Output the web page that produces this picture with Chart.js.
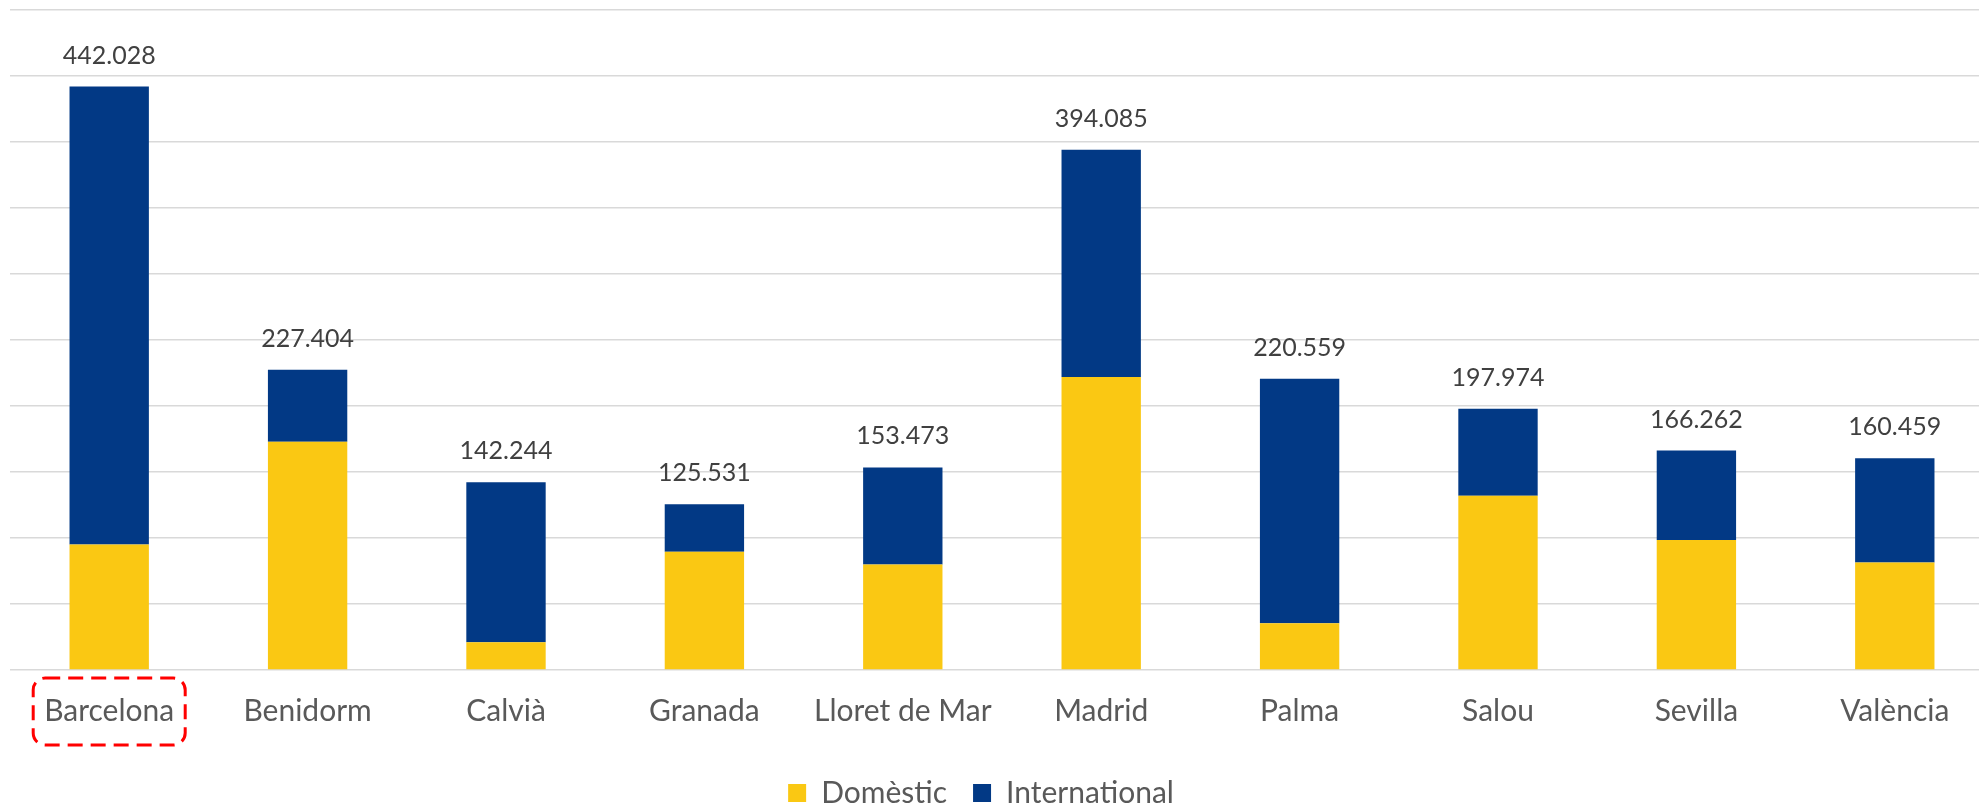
<!DOCTYPE html>
<html>
<head>
<meta charset="utf-8">
<script src="https://cdn.jsdelivr.net/npm/chart.js@4"></script>
<style>
  html, body { margin: 0; padding: 0; background: #fff; overflow: hidden; }
  #wrap { width: 1994px; height: 805px; position: relative; }
</style>
</head>
<body>
<div id="wrap"><canvas id="chart"></canvas></div>
<script>
const cities = ["Barcelona", "Benidorm", "Calvià", "Granada", "Lloret de Mar", "Madrid", "Palma", "Salou", "Sevilla", "València"];
const domestic = [95000, 173000, 21000, 89500, 80000, 222000, 35500, 132000, 98500, 81500];
const international = [347028, 54404, 121244, 36031, 73473, 172085, 185059, 65974, 67762, 78959];

const FONT = "Lato, Carlito, Calibri, sans-serif";

function fmt(n) {
  return String(Math.round(n)).replace(/\B(?=(\d{3})+(?!\d))/g, ".");
}

// totals above each stacked bar
const totalLabels = {
  id: "totalLabels",
  afterDatasetsDraw(chart) {
    const ctx = chart.ctx;
    const top = chart.getDatasetMeta(1).data;
    ctx.save();
    ctx.font = "25px " + FONT;
    ctx.fillStyle = "#404040";
    ctx.textAlign = "center";
    ctx.textBaseline = "alphabetic";
    top.forEach((bar, i) => {
      ctx.fillText(fmt(domestic[i] + international[i]), bar.x, bar.y - 23);
    });
    ctx.restore();
  }
};

// red dashed box round the first category label
const highlight = {
  id: "highlight",
  afterDraw(chart) {
    const ctx = chart.ctx;
    const x = chart.scales.x.getPixelForValue(0);
    const y = chart.chartArea.bottom;
    ctx.save();
    ctx.strokeStyle = "#ff0000";
    ctx.lineWidth = 3;
    ctx.setLineDash([15, 8]);
    ctx.beginPath();
    ctx.roundRect(x - 76, y + 8, 152, 67, 12);
    ctx.stroke();
    ctx.restore();
  }
};

// legend sits a bit left of the canvas centre in the original
const legendShift = {
  id: "legendShift",
  afterLayout(chart) {
    chart.legend.left -= 21;
    chart.legend.right -= 21;
  }
};

new Chart(document.getElementById("chart"), {
  type: "bar",
  data: {
    labels: cities,
    datasets: [
      {
        label: "Domèstic",
        data: domestic,
        backgroundColor: "#fac813"
      },
      {
        label: "International",
        data: international,
        backgroundColor: "#023985"
      }
    ]
  },
  options: {
    responsive: true,
    maintainAspectRatio: false,
    animation: false,
    barPercentage: 0.4,
    categoryPercentage: 1,
    layout: { padding: { left: 10, top: 10, right: 0, bottom: -13 } },
    scales: {
      x: {
        stacked: true,
        grid: { display: false, drawTicks: false },
        border: { display: false },
        ticks: {
          font: { family: FONT, size: 30 },
          color: "#595959",
          padding: 23,
          maxRotation: 0,
          autoSkip: false
        }
      },
      y: {
        stacked: true,
        min: 0,
        max: 500000,
        ticks: { display: false, stepSize: 50000 },
        grid: { color: "#d9d9d9", lineWidth: 1.5, drawTicks: false },
        border: { display: false }
      }
    },
    plugins: {
      legend: {
        position: "bottom",
        labels: {
          font: { family: FONT, size: 30 },
          color: "#595959",
          boxWidth: 18,
          boxHeight: 18,
          padding: 26
        }
      },
      tooltip: { enabled: false }
    }
  },
  plugins: [totalLabels, highlight, legendShift]
});
</script>
</body>
</html>
